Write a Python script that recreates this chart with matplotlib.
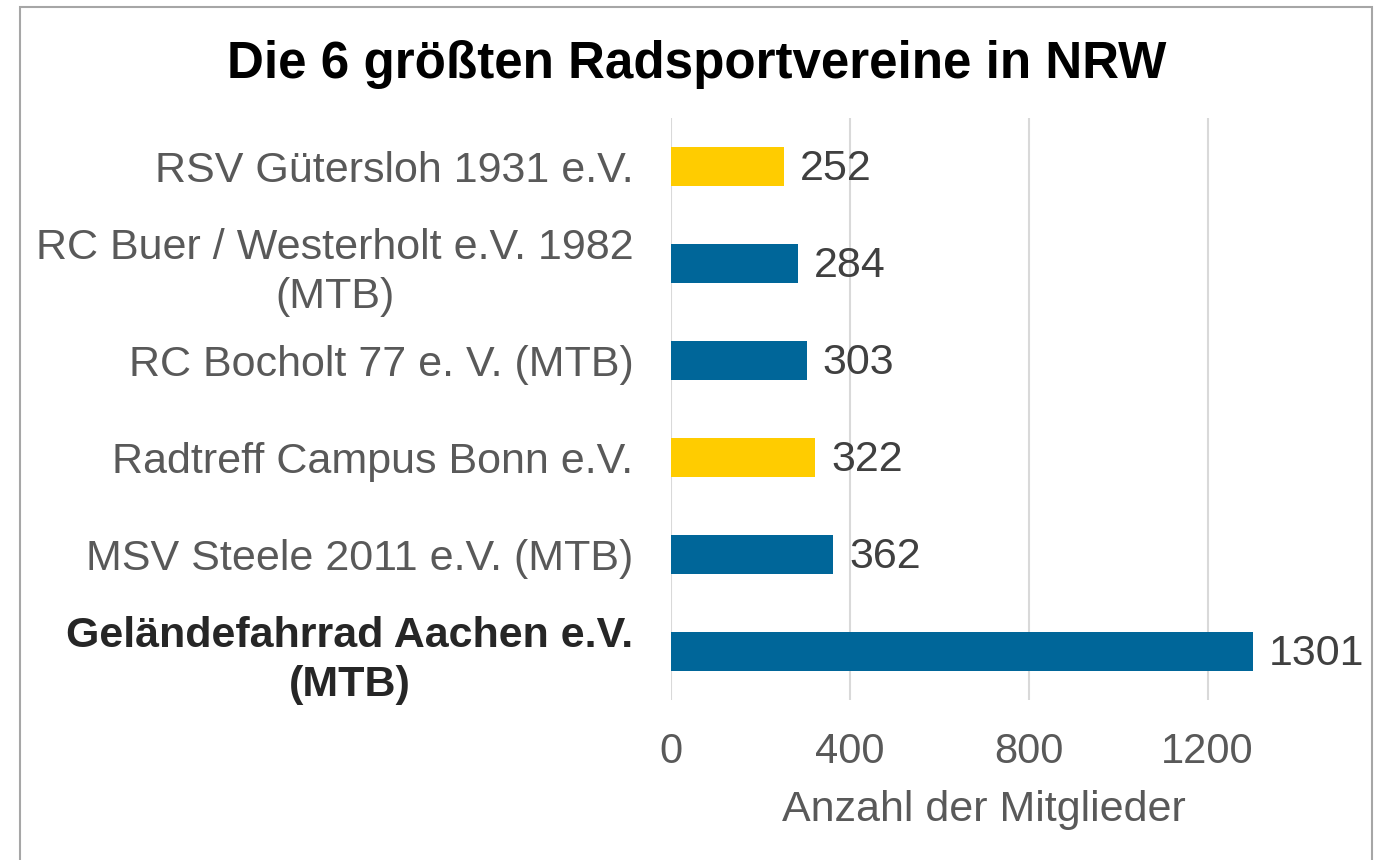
import matplotlib
matplotlib.use("Agg")
import matplotlib.pyplot as plt
from matplotlib.patches import Rectangle

# data, bottom to top
vereine = ["Geländefahrrad Aachen e.V.\n(MTB)",
           "MSV Steele 2011 e.V. (MTB)",
           "Radtreff Campus Bonn e.V.",
           "RC Bocholt 77 e. V. (MTB)",
           "RC Buer / Westerholt e.V. 1982\n(MTB)",
           "RSV Gütersloh 1931 e.V."]
mitglieder = [1301, 362, 322, 303, 284, 252]
farben = ["#006699", "#006699", "#FFCC00", "#006699", "#006699", "#FFCC00"]
x_ticks = [0, 400, 800, 1200]

plt.rcParams["font.family"] = ["Liberation Sans", "DejaVu Sans"]

fig = plt.figure(figsize=(13.81, 8.60), dpi=100)
ax = fig.add_axes([0.4859, 0.186, 0.4533, 0.6768])

pos = range(len(vereine))
ax.barh(pos, mitglieder, height=0.4, color=farben, zorder=3)

# value labels right of the bars
for p, v in zip(pos, mitglieder):
    ax.text(v + 36, p - 0.03, str(v), va="center", ha="left", fontsize=31, color="#404040")

ax.set_xlim(0, 1400)
ax.set_ylim(-0.5, len(vereine) - 0.5)
ax.set_xticks(x_ticks)
ax.set_xticklabels([str(t) for t in x_ticks])
ax.set_yticks(list(pos))
ax.set_yticklabels(vereine, multialignment="center", linespacing=1.28)
ax.tick_params(axis="y", length=0, pad=27, labelsize=31, labelcolor="#595959")
ax.tick_params(axis="x", length=0, pad=23, labelsize=30, labelcolor="#595959")

lab = ax.get_yticklabels()[0]
lab.set_fontweight("bold")
lab.set_color("#262626")

ax.grid(axis="x", color="#D9D9D9", lw=1.5, zorder=0)
for s in ax.spines.values():
    s.set_visible(False)

ax.set_xlabel("Anzahl der Mitglieder", fontsize=31, color="#595959", labelpad=13)

fig.text(0.5047, 0.9093, "Die 6 größten Radsportvereine in NRW", ha="center", va="baseline",
         fontsize=36.8, fontweight="bold", color="black")

# frame around chart
fig.patches.append(Rectangle((0.0145, -0.05), 0.979, 1.042, transform=fig.transFigure,
                             fill=False, edgecolor="#A6A6A6", lw=1.5))

fig.savefig("out.png", dpi=100)
